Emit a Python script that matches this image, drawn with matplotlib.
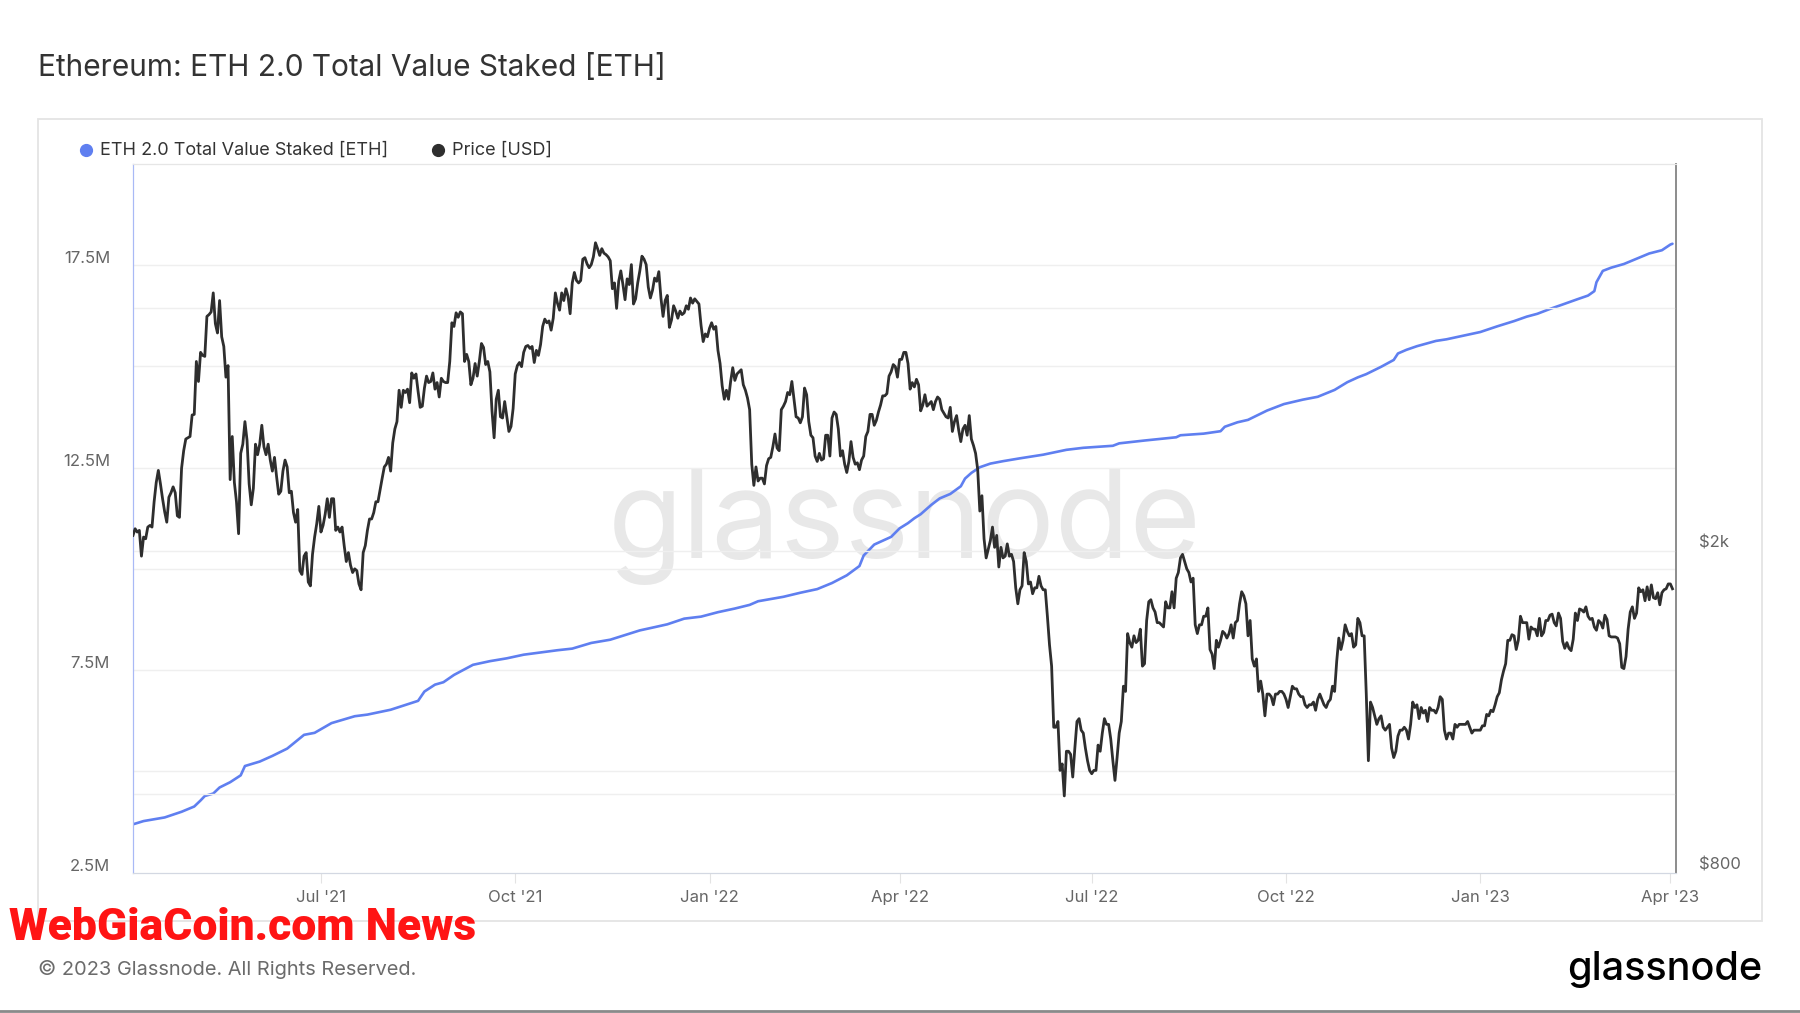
import matplotlib
matplotlib.use("Agg")
import matplotlib.pyplot as plt
import matplotlib.dates as mdates
import numpy as np
import pandas as pd
from matplotlib.patches import Rectangle
from matplotlib.lines import Line2D

plt.rcParams['font.family'] = ['Inter', 'DejaVu Sans']

# ---------------- data ----------------
title = "Ethereum: ETH 2.0 Total Value Staked [ETH]"
series_stake_name = "ETH 2.0 Total Value Staked [ETH]"
series_price_name = "Price [USD]"

stake_dates = ["2021-04-03", "2021-04-08", "2021-04-18", "2021-04-26", "2021-05-02", "2021-05-05",
               "2021-05-07", "2021-05-11", "2021-05-14", "2021-05-19", "2021-05-24", "2021-05-26",
               "2021-06-02", "2021-06-08", "2021-06-15", "2021-06-23", "2021-06-28", "2021-07-06",
               "2021-07-17", "2021-07-23", "2021-08-03", "2021-08-16", "2021-08-19", "2021-08-24",
               "2021-08-28", "2021-09-02", "2021-09-11", "2021-09-19", "2021-09-27", "2021-10-05",
               "2021-10-21", "2021-10-28", "2021-11-06", "2021-11-15", "2021-11-29", "2021-12-06",
               "2021-12-12", "2021-12-20", "2021-12-28", "2022-01-05", "2022-01-13", "2022-01-20",
               "2022-01-24", "2022-02-05", "2022-02-13", "2022-02-21", "2022-02-28", "2022-03-07",
               "2022-03-13", "2022-03-15", "2022-03-20", "2022-03-28", "2022-04-01", "2022-04-05",
               "2022-04-08", "2022-04-11", "2022-04-16", "2022-04-20", "2022-04-25", "2022-04-30",
               "2022-05-02", "2022-05-05", "2022-05-09", "2022-05-14", "2022-05-20", "2022-05-28",
               "2022-06-08", "2022-06-19", "2022-06-27", "2022-07-11", "2022-07-14", "2022-07-26",
               "2022-08-10", "2022-08-12", "2022-08-23", "2022-08-31", "2022-09-02", "2022-09-08",
               "2022-09-13", "2022-09-22", "2022-09-30", "2022-10-09", "2022-10-16", "2022-10-24",
               "2022-10-30", "2022-11-04", "2022-11-08", "2022-11-15", "2022-11-21", "2022-11-23",
               "2022-11-27", "2022-12-02", "2022-12-11", "2022-12-16", "2022-12-24", "2023-01-01",
               "2023-01-09", "2023-01-17", "2023-01-23", "2023-01-28", "2023-02-03", "2023-02-09",
               "2023-02-16", "2023-02-21", "2023-02-24", "2023-02-25", "2023-02-28", "2023-03-04",
               "2023-03-10", "2023-03-16", "2023-03-22", "2023-03-28", "2023-04-01", "2023-04-02"]
# millions of ETH
stake_values_m = [3.69, 3.77, 3.86, 4.00, 4.13, 4.28, 4.39, 4.45, 4.60, 4.73, 4.90, 5.13, 5.24, 5.38,
                  5.56, 5.90, 5.95, 6.19, 6.36, 6.40, 6.52, 6.74, 6.97, 7.14, 7.20, 7.38, 7.63, 7.72,
                  7.79, 7.88, 7.99, 8.03, 8.17, 8.25, 8.48, 8.56, 8.63, 8.77, 8.82, 8.93, 9.02, 9.11,
                  9.20, 9.31, 9.41, 9.50, 9.65, 9.84, 10.07, 10.33, 10.60, 10.79, 11.00, 11.13, 11.25,
                  11.35, 11.58, 11.74, 11.85, 12.04, 12.23, 12.37, 12.51, 12.60, 12.66, 12.73, 12.82,
                  12.94, 12.99, 13.04, 13.10, 13.17, 13.25, 13.30, 13.34, 13.40, 13.51, 13.62, 13.68,
                  13.91, 14.07, 14.18, 14.25, 14.42, 14.61, 14.73, 14.81, 14.99, 15.16, 15.32, 15.41,
                  15.50, 15.63, 15.67, 15.76, 15.85, 15.99, 16.12, 16.23, 16.30, 16.42, 16.53, 16.66,
                  16.75, 16.86, 17.08, 17.36, 17.44, 17.53, 17.66, 17.79, 17.87, 18.01, 18.03]

# daily ETH price (USD)
price_2021_04 = [2090, 2130, 2110, 2120, 1970, 2080, 2070, 2140, 2150, 2140, 2300, 2430, 2515, 2420,
                 2320, 2235, 2170, 2330, 2360, 2400, 2360, 2210, 2200, 2530, 2660, 2750, 2760, 2770]
price_2021_05 = [2945, 2950, 3430, 3240, 3520, 3490, 3480, 3900, 3920, 3950, 4170, 3820, 3720, 4080,
                 3680, 3580, 3280, 3390, 2450, 2770, 2430, 2300, 2100, 2640, 2710, 2890, 2740, 2420,
                 2280, 2390, 2710]
price_2021_06 = [2630, 2710, 2860, 2690, 2630, 2710, 2590, 2510, 2610, 2470, 2350, 2370, 2510, 2590,
                 2540, 2360, 2370, 2230, 2170, 2250, 1890, 1870, 1970, 1990, 1830, 1810, 1980, 2080,
                 2160, 2270]
price_2021_07 = [2110, 2150, 2220, 2320, 2200, 2320, 2320, 2120, 2140, 2110, 2140, 2030, 1940, 1990,
                 1920, 1880, 1900, 1890, 1820, 1790, 1990, 2030, 2120, 2190, 2190, 2230, 2300, 2300,
                 2380, 2460, 2540]
price_2021_08 = [2560, 2610, 2510, 2720, 2830, 2890, 3160, 3010, 3160, 3140, 3170, 3050, 3320, 3270,
                 3310, 3150, 3010, 3020, 3180, 3290, 3230, 3240, 3320, 3170, 3230, 3100, 3270, 3240,
                 3230, 3230, 3430]
price_2021_09 = [3830, 3790, 3940, 3890, 3950, 3930, 3430, 3500, 3430, 3210, 3270, 3410, 3290, 3430,
                 3610, 3570, 3400, 3430, 3330, 2980, 2760, 3080, 3160, 2930, 2920, 3060, 2930, 2810,
                 2850, 3000]
price_2021_10 = [3310, 3390, 3420, 3380, 3520, 3580, 3590, 3560, 3580, 3420, 3540, 3490, 3600, 3790,
                 3870, 3830, 3850, 3750, 3880, 4170, 4050, 3970, 4170, 4080, 4220, 4130, 3930, 4290,
                 4420, 4320, 4290]
price_2021_11 = [4320, 4590, 4610, 4530, 4480, 4520, 4620, 4810, 4730, 4640, 4730, 4670, 4650, 4620,
                 4570, 4220, 4290, 3990, 4310, 4440, 4270, 4090, 4340, 4270, 4520, 4040, 4100, 4290,
                 4440, 4630]
price_2021_12 = [4590, 4520, 4240, 4110, 4200, 4350, 4310, 4430, 4110, 3900, 4080, 4140, 3780, 3860,
                 4020, 3960, 3880, 3960, 3920, 3940, 4020, 3980, 4110, 4050, 4100, 4070, 4040, 3800,
                 3630, 3710, 3680]
price_2022_01 = [3770, 3830, 3760, 3790, 3540, 3410, 3200, 3080, 3160, 3080, 3240, 3370, 3250, 3310,
                 3330, 3350, 3210, 3160, 3090, 2990, 2560, 2410, 2540, 2440, 2460, 2460, 2420, 2550,
                 2600, 2610, 2690]
price_2022_02 = [2790, 2680, 2660, 2990, 3020, 3060, 3140, 3120, 3240, 3080, 2930, 2920, 2880, 2930,
                 3180, 3120, 2890, 2780, 2760, 2620, 2580, 2640, 2590, 2600, 2780, 2780, 2620, 2920]
price_2022_03 = [2970, 2950, 2830, 2620, 2660, 2560, 2500, 2580, 2730, 2610, 2560, 2570, 2520, 2590,
                 2620, 2770, 2810, 2950, 2950, 2860, 2900, 2970, 3030, 3110, 3110, 3130, 3290, 3330,
                 3400, 3380, 3280]
price_2022_04 = [3450, 3450, 3520, 3520, 3410, 3170, 3230, 3190, 3260, 3210, 2980, 3030, 3120, 3020,
                 3040, 3060, 2990, 3060, 3100, 3080, 2990, 2960, 2930, 2920, 3010, 2810, 2890, 2940,
                 2820, 2730]
price_2022_05 = [2830, 2860, 2780, 2940, 2750, 2700, 2640, 2520, 2240, 2340, 2070, 1960, 2010, 2060,
                 2140, 2020, 2090, 1910, 2020, 1960, 1970, 2040, 1970, 1980, 1940, 1800, 1720, 1790,
                 1810, 1990, 1940]
price_2022_06 = [1820, 1830, 1770, 1800, 1800, 1860, 1810, 1790, 1790, 1660, 1530, 1440, 1210, 1210,
                 1230, 1070, 1090, 995, 1130, 1130, 1120, 1050, 1140, 1230, 1240, 1200, 1190, 1140,
                 1100, 1070]
price_2022_07 = [1060, 1070, 1070, 1150, 1130, 1190, 1240, 1220, 1220, 1170, 1100, 1040, 1110, 1190,
                 1230, 1360, 1340, 1580, 1540, 1520, 1570, 1540, 1550, 1600, 1440, 1450, 1640, 1730,
                 1740, 1700, 1680]
price_2022_08 = [1630, 1630, 1620, 1610, 1730, 1700, 1700, 1780, 1700, 1850, 1880, 1960, 1980, 1940,
                 1900, 1880, 1830, 1850, 1620, 1580, 1620, 1620, 1660, 1660, 1700, 1510, 1490, 1430,
                 1550, 1520, 1550]
price_2022_09 = [1590, 1580, 1560, 1580, 1620, 1560, 1630, 1640, 1720, 1780, 1760, 1720, 1570, 1640,
                 1470, 1440, 1470, 1340, 1380, 1330, 1250, 1330, 1330, 1320, 1290, 1330, 1330, 1340,
                 1340, 1330]
price_2022_10 = [1310, 1280, 1320, 1360, 1350, 1350, 1330, 1320, 1320, 1290, 1280, 1290, 1290, 1300,
                 1270, 1310, 1330, 1310, 1290, 1280, 1300, 1310, 1360, 1340, 1460, 1560, 1510, 1550,
                 1620, 1590, 1570]
price_2022_11 = [1580, 1520, 1530, 1650, 1630, 1570, 1570, 1330, 1100, 1300, 1280, 1250, 1220, 1240,
                 1250, 1210, 1200, 1210, 1220, 1140, 1110, 1130, 1180, 1200, 1200, 1210, 1200, 1170,
                 1220, 1300]
price_2022_12 = [1280, 1290, 1240, 1280, 1260, 1270, 1230, 1280, 1270, 1270, 1260, 1280, 1320, 1310,
                 1200, 1170, 1190, 1190, 1170, 1220, 1210, 1220, 1220, 1220, 1220, 1230, 1210, 1190,
                 1200, 1200, 1200]
price_2023_01 = [1200, 1215, 1215, 1255, 1250, 1270, 1265, 1290, 1320, 1335, 1385, 1420, 1450, 1550,
                 1550, 1575, 1570, 1510, 1550, 1660, 1630, 1630, 1630, 1555, 1610, 1600, 1600, 1570,
                 1650, 1570, 1585]
price_2023_02 = [1640, 1640, 1665, 1670, 1630, 1615, 1675, 1650, 1545, 1515, 1540, 1515, 1505, 1555,
                 1675, 1640, 1695, 1690, 1680, 1705, 1660, 1645, 1650, 1610, 1595, 1640, 1630, 1605]
price_2023_03 = [1665, 1645, 1570, 1565, 1565, 1565, 1560, 1535, 1435, 1430, 1480, 1600, 1680, 1705,
                 1650, 1675, 1800, 1780, 1790, 1735, 1805, 1740, 1815, 1750, 1745, 1775, 1715, 1775,
                 1790, 1795, 1820]
price_2023_04 = [1820, 1795]

price_month_starts = ["2021-04-03", "2021-05-01", "2021-06-01", "2021-07-01", "2021-08-01",
                      "2021-09-01", "2021-10-01", "2021-11-01", "2021-12-01", "2022-01-01",
                      "2022-02-01", "2022-03-01", "2022-04-01", "2022-05-01", "2022-06-01",
                      "2022-07-01", "2022-08-01", "2022-09-01", "2022-10-01", "2022-11-01",
                      "2022-12-01", "2023-01-01", "2023-02-01", "2023-03-01", "2023-04-01"]
price_months = [price_2021_04, price_2021_05, price_2021_06, price_2021_07, price_2021_08,
                price_2021_09, price_2021_10, price_2021_11, price_2021_12, price_2022_01,
                price_2022_02, price_2022_03, price_2022_04, price_2022_05, price_2022_06,
                price_2022_07, price_2022_08, price_2022_09, price_2022_10, price_2022_11,
                price_2022_12, price_2023_01, price_2023_02, price_2023_03, price_2023_04]

left_grid_m = [5.0, 7.5, 10.0, 12.5, 15.0, 17.5]
left_label_m = [2.5, 7.5, 12.5, 17.5]
right_grid_usd = [1000, 2000, 4000]
right_labels = [(800, "$800"), (2000, "$2k")]

# ---------------- build series ----------------
p_dates, p_vals = [], []
for start, vals in zip(price_month_starts, price_months):
    p_dates.extend(pd.date_range(start, periods=len(vals), freq="D"))
    p_vals.extend(vals)
p_dates = pd.DatetimeIndex(p_dates)
s_dates = pd.to_datetime(stake_dates)

# ---------------- figure ----------------
W, H = 1800, 1013
fig = plt.figure(figsize=(W / 100, H / 100), dpi=100)
fig.patch.set_facecolor("white")


def fx(px):
    return px / W


def fy(py):
    return 1 - py / H


BLUE = "#5f7ff0"
DARK = "#2e2e2e"
GRID = "#efefef"
TXT = "#666666"

# outer panel
fig.patches.append(Rectangle((fx(38), fy(921)), fx(1762) - fx(38), fy(119) - fy(921),
                             transform=fig.transFigure, facecolor="white",
                             edgecolor="#e4e4e4", lw=1.3, zorder=-5))
# bottom rule
fig.add_artist(Line2D([0, 1], [fy(1011), fy(1011)], transform=fig.transFigure,
                      color="#8a8a8a", lw=2.0))

fig.text(fx(38), fy(67.5), title, fontsize=21.5, color="#333333", ha="left", va="center")

# legend
fig.add_artist(Line2D([fx(86)], [fy(150.5)], transform=fig.transFigure, marker="o",
                      markersize=8.5, color=BLUE, lw=0))
fig.text(fx(100), fy(150.5), series_stake_name, fontsize=13, color="#333333", va="center")
fig.add_artist(Line2D([fx(438)], [fy(150.5)], transform=fig.transFigure, marker="o",
                      markersize=8.5, color=DARK, lw=0))
fig.text(fx(452), fy(150.5), series_price_name, fontsize=13, color="#333333", va="center")

ax = fig.add_axes([fx(133), fy(872.5), fx(1676) - fx(133), fy(164) - fy(872.5)], zorder=2)
ax.set_facecolor("white")
ax2 = ax.twinx()

ax.text(0.5, 0.489, "glassnode", transform=ax.transAxes, ha="center", va="center",
        fontsize=88, color="#e8e8e8", zorder=0)

ax.plot(s_dates, stake_values_m, color=BLUE, lw=1.9, zorder=3, solid_capstyle="round")
ax2.plot(p_dates, p_vals, color=DARK, lw=2.0, zorder=3, solid_joinstyle="round")

ax.set_ylim(2.5, 20.0)
ax2.set_yscale("log")
ax2.set_ylim(800, 6020)
ax.set_xlim(pd.Timestamp("2021-04-03"), pd.Timestamp("2023-04-03 16:00"))

# gridlines
ax.set_yticks(left_grid_m)
ax.yaxis.grid(True, color=GRID, lw=1.0)
ax.set_axisbelow(True)
ax2.set_yticks(right_grid_usd)
ax2.yaxis.set_minor_locator(matplotlib.ticker.NullLocator())
ax2.yaxis.grid(True, color=GRID, lw=1.0)
ax2.set_axisbelow(True)
for a in (ax, ax2):
    a.tick_params(axis="y", which="both", length=0, labelleft=False, labelright=False)

# left labels
for v in left_label_m:
    ax.annotate(f"{v:g}M", xy=(0, v), xycoords=ax.get_yaxis_transform(),
                xytext=(-16.5, 4.5), textcoords="offset points", ha="right", va="center",
                fontsize=12, color=TXT, annotation_clip=False)
for v, lab in right_labels:
    ax2.annotate(lab, xy=(1, v), xycoords=ax2.get_yaxis_transform(),
                 xytext=(16.5, 5.5), textcoords="offset points", ha="left", va="center",
                 fontsize=12, color=TXT, annotation_clip=False)

# x axis
ax.xaxis.set_major_locator(mdates.MonthLocator(bymonth=[1, 4, 7, 10]))
ax.xaxis.set_major_formatter(mdates.DateFormatter("%b '%y"))
ax.tick_params(axis="x", length=7, width=0.8, color="#e3e3e3", pad=5.5, labelsize=12,
               labelcolor=TXT)
ax2.tick_params(axis="x", length=0)

for a in (ax, ax2):
    a.spines["top"].set_color("#e6e6e6")
    a.spines["bottom"].set_color("#d3d8e2")
    a.spines["left"].set_color("#a9b9f6")
    a.spines["right"].set_color("#8c8c8c")
    a.spines["right"].set_linewidth(1.2)

# footer
fig.text(fx(9), fy(928), "WebGiaCoin.com News", fontsize=32, fontweight="heavy",
         family=["Roboto", "DejaVu Sans"], color="#ff1414",
         ha="left", va="center")
fig.text(fx(38), fy(969), "\u00a9 2023 Glassnode. All Rights Reserved.", fontsize=14.4,
         color="#6b6b6b", ha="left", va="center")
fig.text(fx(1762), fy(970), "glassnode", fontsize=28.5, color="black", ha="right", va="center",
         fontweight="medium")

fig.savefig("out.png", dpi=100, facecolor="white")
